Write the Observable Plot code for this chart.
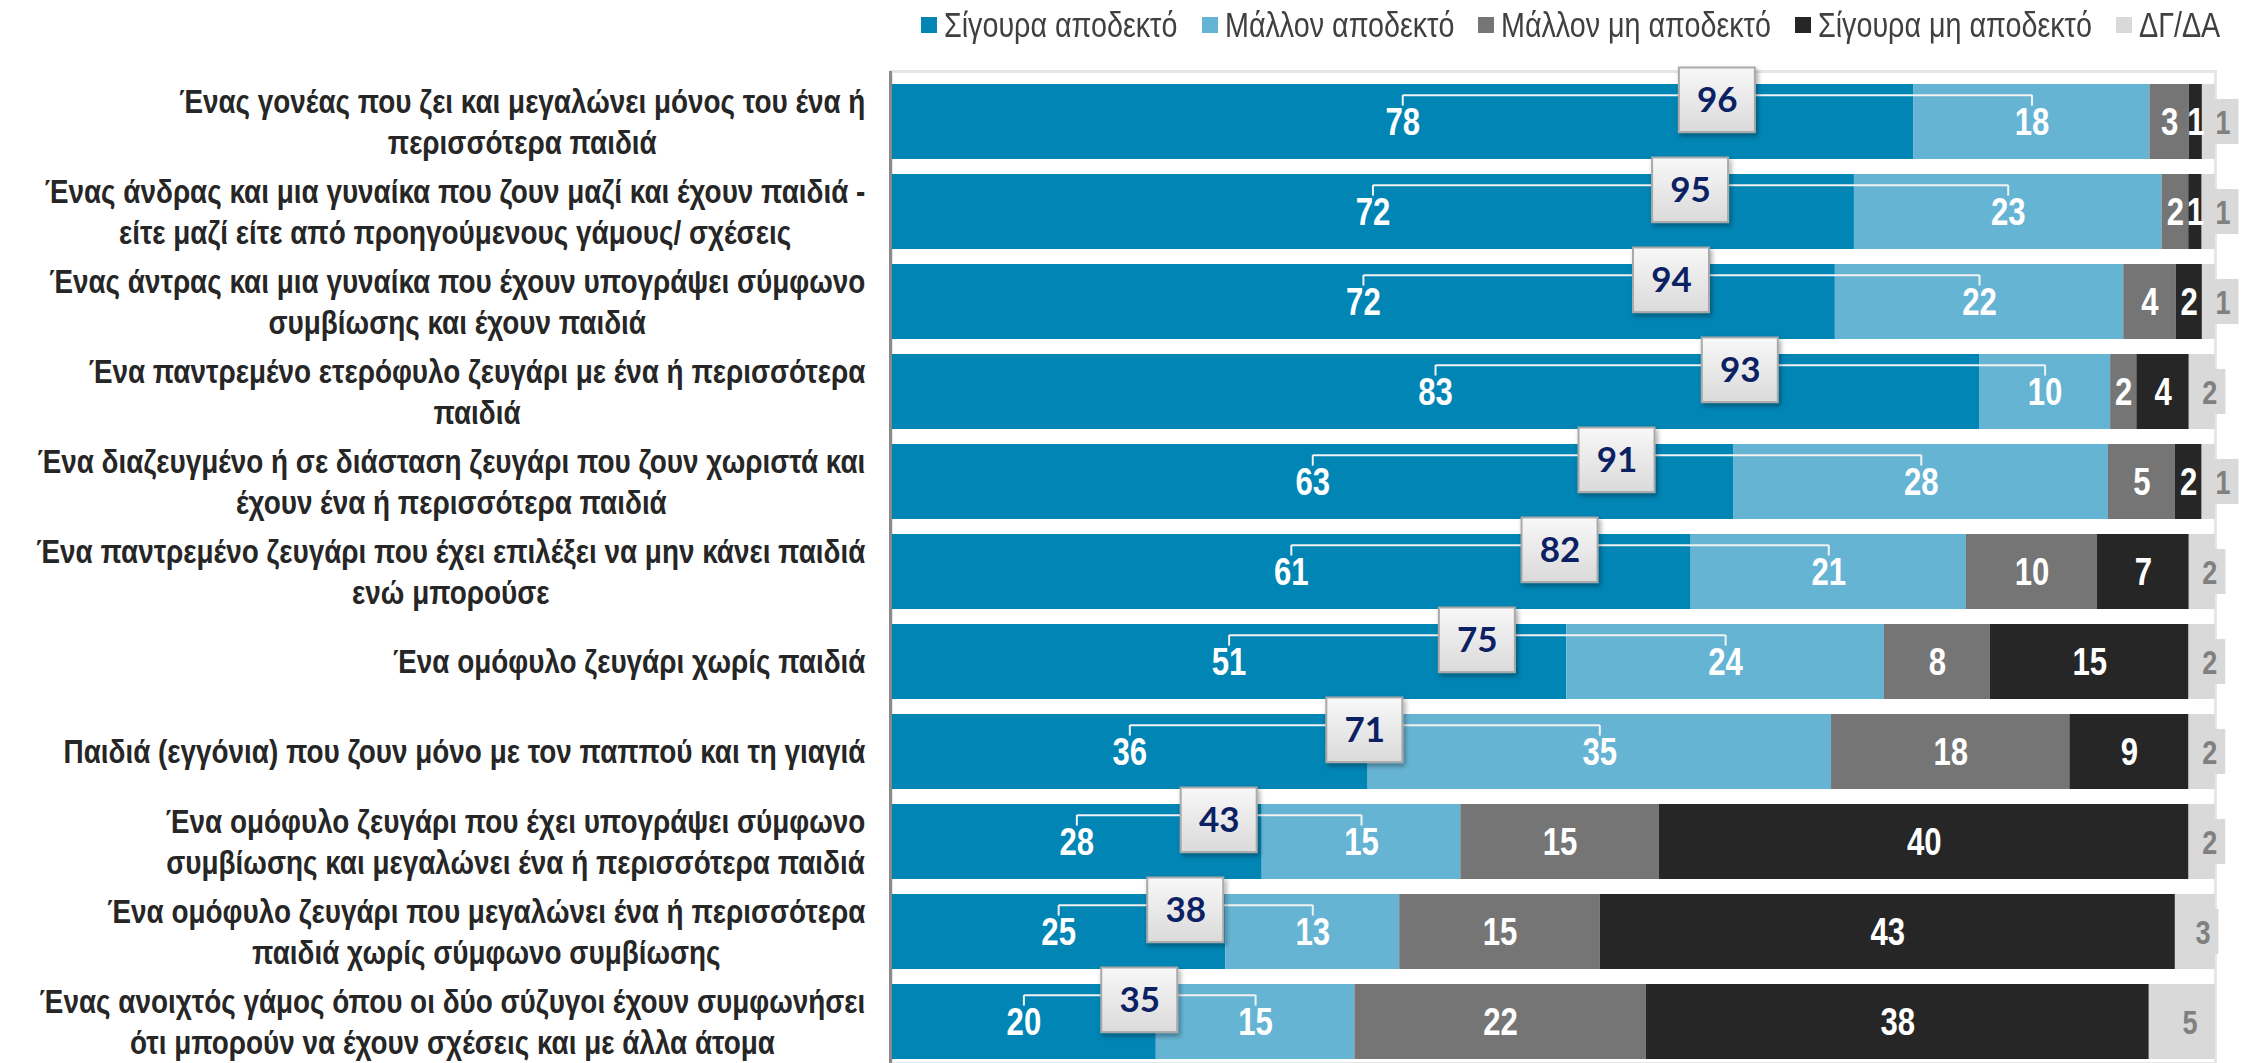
<!DOCTYPE html>
<html>
<head>
<meta charset="utf-8">
<script src="https://cdn.jsdelivr.net/npm/d3@7"></script>
<script src="https://cdn.jsdelivr.net/npm/@observablehq/plot@0.6"></script>
<style>
  html, body { margin: 0; padding: 0; background: #fff; }
  body { width: 2249px; height: 1063px; overflow: hidden; }
  #legend {
    height: 50px; display: flex; justify-content: flex-end; align-items: center;
    padding-right: 29px; box-sizing: border-box;
    font-family: "Liberation Sans", Arial, sans-serif;
    font-size: 35px; color: #404040;
  }
  .item { display: flex; align-items: center; margin-left: 24px; }
  .sw { width: 16px; height: 16px; margin-right: 7px; flex: none; }
  .lbl { display: block; overflow: visible; white-space: nowrap; }
  .lbl span { display: inline-block; transform-origin: 0 50%; }
  #chart svg { display: block; }
</style>
</head>
<body>
<div id="legend"></div>
<div id="chart"></div>
<script>
// ---------- data ----------
const categories = [
  "Ένας γονέας που ζει και μεγαλώνει μόνος του ένα ή\nπερισσότερα παιδιά",
  "Ένας άνδρας και μια γυναίκα που ζουν μαζί και έχουν παιδιά -\nείτε μαζί είτε από προηγούμενους γάμους/ σχέσεις",
  "Ένας άντρας και μια γυναίκα που έχουν υπογράψει σύμφωνο\nσυμβίωσης και έχουν παιδιά",
  "Ένα παντρεμένο ετερόφυλο ζευγάρι με ένα ή περισσότερα\nπαιδιά",
  "Ένα διαζευγμένο ή σε διάσταση ζευγάρι που ζουν χωριστά και\nέχουν ένα ή περισσότερα παιδιά",
  "Ένα παντρεμένο ζευγάρι που έχει επιλέξει να μην κάνει παιδιά\nενώ μπορούσε",
  "Ένα ομόφυλο ζευγάρι χωρίς παιδιά",
  "Παιδιά (εγγόνια) που ζουν μόνο με τον παππού και τη γιαγιά",
  "Ένα ομόφυλο ζευγάρι που έχει υπογράψει σύμφωνο\nσυμβίωσης και μεγαλώνει ένα ή περισσότερα παιδιά",
  "Ένα ομόφυλο ζευγάρι που μεγαλώνει ένα ή περισσότερα\nπαιδιά χωρίς σύμφωνο συμβίωσης",
  "Ένας ανοιχτός γάμος όπου οι δύο σύζυγοι έχουν συμφωνήσει\nότι μπορούν να έχουν σχέσεις και με άλλα άτομα"
];
const series = ["Σίγουρα αποδεκτό", "Μάλλον αποδεκτό", "Μάλλον μη αποδεκτό", "Σίγουρα μη αποδεκτό", "ΔΓ/ΔΑ"];
const colors = ["#0085b5", "#66b4d4", "#757575", "#262626", "#d9d9d9"];

const definitelyAcceptable    = [78, 72, 72, 83, 63, 61, 51, 36, 28, 25, 20];
const ratherAcceptable        = [18, 23, 22, 10, 28, 21, 24, 35, 15, 13, 15];
const ratherNotAcceptable     = [3, 2, 4, 2, 5, 10, 8, 18, 15, 15, 22];
const definitelyNotAcceptable = [1, 1, 2, 4, 2, 7, 15, 9, 40, 43, 38];
const dontKnow                = [1, 1, 1, 2, 1, 2, 2, 2, 2, 3, 5];
const totalAcceptable         = [96, 95, 94, 93, 91, 82, 75, 71, 43, 38, 35];

// ---------- derived table ----------
const rows = categories.map((cat, i) => {
  const vals = [definitelyAcceptable[i], ratherAcceptable[i], ratherNotAcceptable[i], definitelyNotAcceptable[i], dontKnow[i]];
  const sum = d3.sum(vals);
  let acc = 0;
  const segs = vals.map((v, j) => {
    const x1 = acc / sum; acc += v; const x2 = acc / sum;
    return {cat, series: series[j], value: v, x1, x2, mid: (x1 + x2) / 2, j};
  });
  return {cat, segs, total: totalAcceptable[i], m1: segs[0].mid, m2: segs[1].mid, mc: (segs[0].mid + segs[1].mid) / 2};
});
const segments = rows.flatMap(r => r.segs);
const mainSegs = segments.filter(d => d.j < 4);
const dkSegs = segments.filter(d => d.j === 4).map(d => ({...d, lx: d.value <= 1 ? d.x2 : d.mid}));
const bracketEnds = rows.flatMap(r => [{cat: r.cat, x: r.m1}, {cat: r.cat, x: r.m2}]);

// narrow font emulation (Arial Narrow ≈ Arial compressed horizontally)
const NARROW = 0.82;
const FONT = '"Liberation Sans", Arial, sans-serif';
const ctx = document.createElement("canvas").getContext("2d");

// ---------- legend ----------
const LEG_SIZE = 35;
ctx.font = `${LEG_SIZE}px ${FONT}`;
const legend = document.getElementById("legend");
series.forEach((s, i) => {
  const it = document.createElement("div"); it.className = "item";
  const sw = document.createElement("div"); sw.className = "sw"; sw.style.background = colors[i];
  const box = document.createElement("div"); box.className = "lbl";
  box.style.width = (ctx.measureText(s).width * NARROW) + "px";
  const tx = document.createElement("span"); tx.textContent = s;
  tx.style.transform = `scaleX(${NARROW})`;
  box.appendChild(tx);
  it.appendChild(sw); it.appendChild(box); legend.appendChild(it);
});

// ---------- left label metrics ----------
const LABEL_SIZE = 34;
ctx.font = `bold ${LABEL_SIZE}px ${FONT}`;
const labelWidth = c => NARROW * d3.max(c.split("\n"), l => ctx.measureText(l).width);

const W = 2249, H = 1013, ML = 891, MR = 34, MT = 21;
const BAND = 75.4;

const labelMarks = categories.map(c => Plot.text([c], {
  y: d => d, text: d => d, frameAnchor: "left", textAnchor: "middle",
  dx: -(ML - 865) - labelWidth(c) / 2, dy: -2,
  fontSize: LABEL_SIZE, fontWeight: "bold", fill: "#262626",
  lineHeight: 41.6 / LABEL_SIZE, ariaDescription: "narrow"
}));

const chart = Plot.plot({
  width: W, height: H,
  marginLeft: ML, marginRight: MR, marginTop: MT, marginBottom: 0,
  x: {domain: [0, 1], axis: null},
  y: {domain: categories, range: [21, 1021], paddingInner: 0.17, paddingOuter: 0.09, axis: null},
  color: {domain: series, range: colors},
  style: {fontFamily: FONT, background: "white", overflow: "visible"},
  marks: [
    Plot.frame({stroke: "#e6e6e6", strokeWidth: 3}),
    Plot.barX(segments, {x1: "x1", x2: "x2", y: "cat", fill: "series"}),
    Plot.ruleX([0], {stroke: "#8a8a8a", strokeWidth: 3, dx: -1}),
    // brackets
    Plot.link(rows, {x1: "m1", x2: "m2", y1: "cat", y2: "cat", dy: -(BAND / 2 - 11), stroke: "#f2f2f2", strokeWidth: 2}),
    Plot.tickX(bracketEnds, {x: "x", y: "cat", insetTop: 11, insetBottom: BAND - 22, stroke: "#f2f2f2", strokeWidth: 2}),
    // segment labels
    Plot.text(mainSegs, {x: "mid", y: "cat", text: d => String(d.value), fill: "white", fontWeight: "bold", fontSize: 38, dy: 1, ariaDescription: "narrow"}),
    // don't know boxes + labels
    Plot.barX(dkSegs, {x1: "lx", x2: "lx", y: "cat", fill: "#d9d9d9", insetLeft: -8.5, insetRight: -23.5, insetTop: 15, insetBottom: 15}),
    Plot.text(dkSegs, {x: "lx", y: "cat", text: d => String(d.value), dx: 7.5, fill: "#808080", fontWeight: "bold", fontSize: 33, dy: 1, ariaDescription: "narrow"}),
    // callout boxes
    Plot.barX(rows, {x1: "mc", x2: "mc", y: "cat", fill: "url(#calloutGrad)", stroke: "#a9a9a9", strokeWidth: 2,
      insetLeft: -38, insetRight: -38, insetTop: -16.5, insetBottom: BAND - 48.5, ariaDescription: "callout-box"}),
    Plot.text(rows, {x: "mc", y: "cat", text: d => String(d.total), dy: -(BAND / 2 - 16), fill: "#0c2163",
      fontWeight: "bold", fontSize: 35, fontFamily: "Lato, 'Open Sans', sans-serif"}),
    ...labelMarks
  ]
});

const svg = d3.select(chart);
const defs = svg.insert("defs", ":first-child");
const g = defs.append("linearGradient").attr("id", "calloutGrad").attr("x1", 0).attr("y1", 0).attr("x2", 0).attr("y2", 1);
g.append("stop").attr("offset", "0%").attr("stop-color", "#f8f8f8");
g.append("stop").attr("offset", "100%").attr("stop-color", "#dadada");
const f = defs.append("filter").attr("id", "shadow").attr("x", "-20%").attr("y", "-20%").attr("width", "150%").attr("height", "150%");
f.append("feDropShadow").attr("dx", 2).attr("dy", 3).attr("stdDeviation", 2.5).attr("flood-color", "#000").attr("flood-opacity", 0.35);
svg.selectAll('g[aria-description="callout-box"]').attr("filter", "url(#shadow)");
// compress narrow texts horizontally around their anchor point
svg.selectAll('g[aria-description="narrow"] text').each(function () {
  const t = this.getAttribute("transform") || "";
  this.setAttribute("transform", `${t} scale(${NARROW},1)`);
});

document.getElementById("chart").appendChild(chart);
</script>
</body>
</html>
